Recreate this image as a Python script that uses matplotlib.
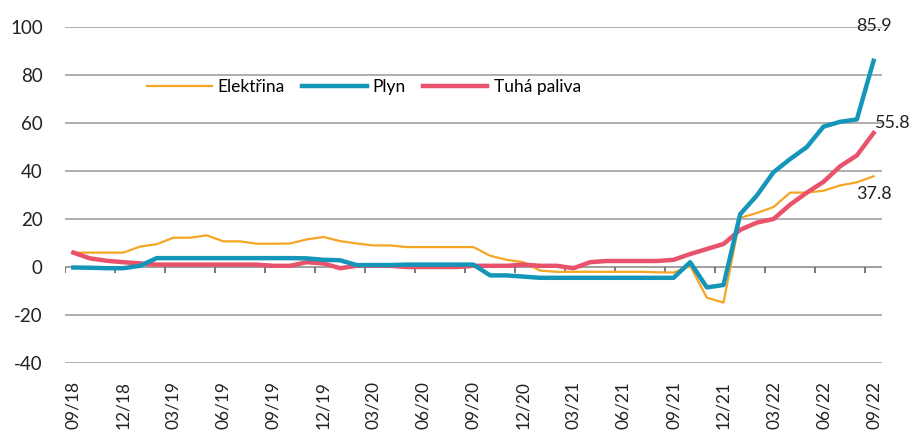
import numpy as np
import matplotlib
matplotlib.use("Agg")
import matplotlib.pyplot as plt

plt.rcParams['font.family'] = ['Lato', 'DejaVu Sans']
plt.rcParams['axes.unicode_minus'] = False

# monthly, 09/18 .. 09/22
months = ["09/18", "10/18", "11/18", "12/18", "01/19", "02/19", "03/19", "04/19",
          "05/19", "06/19", "07/19", "08/19", "09/19", "10/19", "11/19", "12/19",
          "01/20", "02/20", "03/20", "04/20", "05/20", "06/20", "07/20", "08/20",
          "09/20", "10/20", "11/20", "12/20", "01/21", "02/21", "03/21", "04/21",
          "05/21", "06/21", "07/21", "08/21", "09/21", "10/21", "11/21", "12/21",
          "01/22", "02/22", "03/22", "04/22", "05/22", "06/22", "07/22", "08/22",
          "09/22"]

elektrina = [6.0, 6.0, 6.0, 6.0, 8.5, 9.5, 12.2, 12.2, 13.2, 10.7, 10.7, 9.7,
             9.7, 9.8, 11.5, 12.5, 10.8, 9.8, 9.0, 9.0, 8.3, 8.3, 8.3, 8.3,
             8.3, 4.7, 3.0, 2.0, -1.5, -2.0, -2.0, -2.0, -2.0, -2.0, -2.0, -2.2,
             -2.3, 0.5, -12.8, -14.8, 20.5, 22.5, 25.0, 31.0, 31.0, 31.8, 34.0, 35.3,
             37.8]

plyn = [-0.2, -0.3, -0.5, -0.5, 0.5, 3.7, 3.7, 3.7, 3.7, 3.7, 3.7, 3.7,
        3.7, 3.7, 3.6, 3.0, 2.8, 0.8, 0.8, 0.8, 1.0, 1.0, 1.0, 1.0,
        1.0, -3.5, -3.5, -4.0, -4.5, -4.5, -4.5, -4.5, -4.5, -4.5, -4.5, -4.5,
        -4.5, 2.0, -8.5, -7.5, 22.0, 29.8, 39.5, 45.0, 50.0, 58.5, 60.5, 61.5,
        85.9]

tuha_paliva = [6.0, 3.6, 2.6, 2.0, 1.5, 1.0, 1.0, 1.0, 1.0, 1.0, 1.0, 1.0,
               0.5, 0.5, 2.0, 1.5, -0.5, 0.5, 0.5, 0.5, 0.0, 0.0, 0.0, 0.0,
               0.5, 0.5, 0.5, 1.0, 0.5, 0.5, -0.5, 2.0, 2.5, 2.5, 2.5, 2.5,
               3.0, 5.4, 7.5, 9.6, 15.5, 18.5, 20.0, 26.0, 31.0, 35.5, 42.0, 46.5,
               55.8]

x = np.arange(len(months))

fig = plt.figure(figsize=(9.22, 4.32), dpi=100)
ax = fig.add_axes([0.0705, 0.1597, 0.886, 0.7778])

ax.plot(x, elektrina, color="#f5a623", lw=1.6, label="Elektřina", zorder=3)
ax.plot(x, plyn, color="#1596b8", lw=3.2, label="Plyn", zorder=4)
ax.plot(x, tuha_paliva, color="#e8526b", lw=3.2, label="Tuhá paliva", zorder=3)

ax.set_xlim(-0.5, len(months) - 0.5)
ax.set_ylim(-40, 100)
ax.set_yticks(np.arange(-40, 101, 20))
ax.yaxis.grid(True, color="#a8a8a8", lw=1.3)
ax.set_axisbelow(True)
for s in ax.spines.values():
    s.set_visible(False)

ax.set_xticks(x[::3])
ax.set_xticklabels(months[::3], rotation=90, va="top", ha="center")
ax.tick_params(axis="x", length=0, pad=13, labelsize=12.5, labelcolor="#222222")
ax.tick_params(axis="y", length=0, pad=16, labelsize=13.5, labelcolor="#222222")

# category axis at zero: tick marks between categories, every 3rd month
ax.axhline(0, color="#a0a0a0", lw=1.3, zorder=1)
ax.vlines(np.arange(-0.5, len(months), 3), -2.3, 0, color="#707070", lw=1.3, zorder=1)

ax.text(48, 100.6, "85.9", ha="center", va="center", fontsize=13, color="#222222")
ax.text(48.1, 60, "55.8", ha="left", va="center", fontsize=13, color="#222222")
ax.text(48, 30.5, "37.8", ha="center", va="center", fontsize=13, color="#222222")

ax.legend(loc="center", bbox_to_anchor=(0.366, 0.821), ncol=3, frameon=False,
          fontsize=12.5, handlelength=3.7, handletextpad=0.35, columnspacing=1.0)

fig.savefig("out.png", dpi=100)
